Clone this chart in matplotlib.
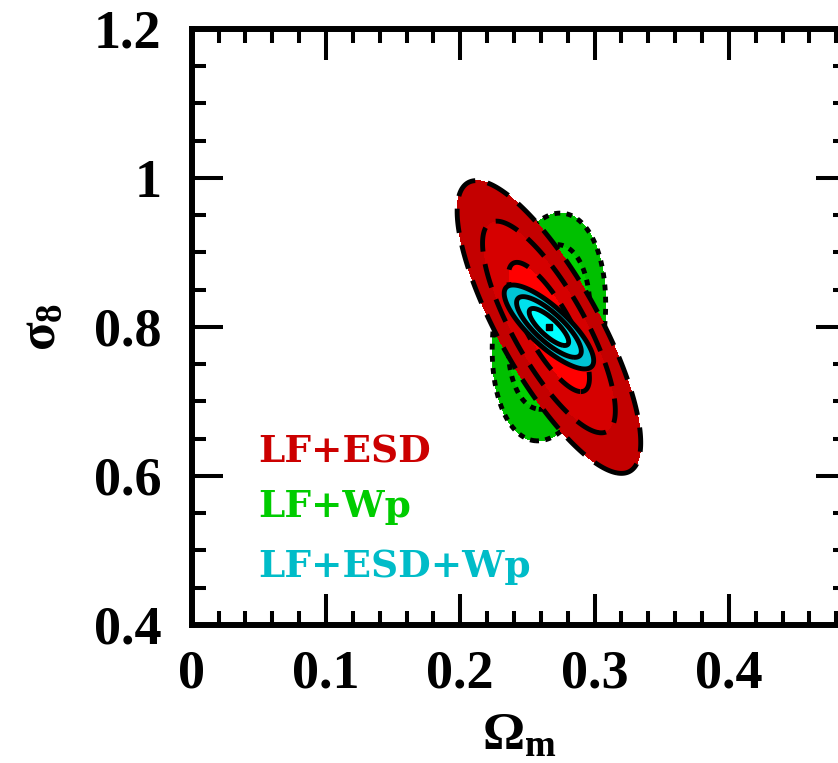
import numpy as np
import matplotlib.pyplot as plt
from matplotlib.ticker import MultipleLocator, FuncFormatter

# constraints in the (Omega_m, sigma_8) plane: mean, 1-sigma errors, correlation
probes = ['LF+ESD', 'LF+Wp', 'LF+ESD+Wp']
om_mean = [0.266, 0.266, 0.266]
s8_mean = [0.800, 0.800, 0.800]
om_err = [0.0199, 0.0123, 0.0097]
s8_err = [0.0572, 0.0445, 0.0164]
corr = [-0.79, 0.20, -0.80]

# delta chi^2 for the 68.3% / 95.4% / 99.7% regions
levels = [2.30, 6.17, 11.8]

fill_colors = [('#ff0000', '#d60000', '#c40000'),
               ('#00e600', '#00d200', '#00c000'),
               ('#00ffff', '#00e0ec', '#00c4d4')]
text_colors = ['#cc0000', '#00cc00', '#00bcc8']
line_styles = [(0, (5.0, 2.6)), (0, (1.2, 1.3)), 'solid']

plt.rcParams['mathtext.fontset'] = 'custom'
plt.rcParams['mathtext.rm'] = 'Liberation Serif:bold'
plt.rcParams['mathtext.it'] = 'Liberation Serif:bold'
plt.rcParams['mathtext.bf'] = 'Liberation Serif:bold'

fig = plt.figure(figsize=(8.38, 7.63), dpi=100)
ax = fig.add_axes([0.2288, 0.1809, 0.782, 0.7811])

om = np.linspace(0.10, 0.45, 700)
s8 = np.linspace(0.45, 1.15, 700)
OM, S8 = np.meshgrid(om, s8)

# draw order: Wp underneath, then ESD, combined on top
for k, i in enumerate([1, 0, 2]):
    dx = (OM - om_mean[i]) / om_err[i]
    dy = (S8 - s8_mean[i]) / s8_err[i]
    r = corr[i]
    chi2 = (dx**2 - 2 * r * dx * dy + dy**2) / (1 - r**2)
    ax.contourf(OM, S8, chi2, levels=[0] + levels, colors=list(fill_colors[i]),
                zorder=1 + 2 * k)
    ax.contour(OM, S8, chi2, levels=levels, colors='k', linewidths=3.5,
               linestyles=[line_styles[i]], zorder=2 + 2 * k)

ax.plot(om_mean[2], s8_mean[2], 's', color='k', ms=4, zorder=8)

for i, name in enumerate(probes):
    ax.text(0.0494, [0.6175, 0.545, 0.4644][i], name, color=text_colors[i],
            fontsize=27, fontweight='bold', family='DejaVu Serif',
            ha='left', va='baseline', zorder=9)

ax.set_xlim(0, 0.488)
ax.set_ylim(0.4, 1.2)
ax.xaxis.set_major_locator(MultipleLocator(0.1))
ax.xaxis.set_minor_locator(MultipleLocator(0.02))
ax.yaxis.set_major_locator(MultipleLocator(0.2))
ax.yaxis.set_minor_locator(MultipleLocator(0.05))
fmt = FuncFormatter(lambda v, p: '%g' % round(v, 3))
ax.xaxis.set_major_formatter(fmt)
ax.yaxis.set_major_formatter(fmt)

ax.tick_params(which='both', direction='in', top=True, right=True, width=2.9)
ax.tick_params(which='major', length=22)
ax.tick_params(which='minor', length=10)
ax.tick_params(axis='x', which='major', pad=18)
ax.tick_params(axis='y', which='major', pad=22)
for lab in ax.get_xticklabels() + ax.get_yticklabels():
    lab.set_fontfamily('Liberation Serif')
    lab.set_fontweight('bold')
    lab.set_fontsize(39)
for sp in ax.spines.values():
    sp.set_linewidth(4.3)

ax.set_xlabel(r'$\Omega_m$', fontsize=38, labelpad=6)
ax.set_ylabel(r'$\sigma_8$', fontsize=38, labelpad=20)

fig.savefig('out.png', dpi=100)
